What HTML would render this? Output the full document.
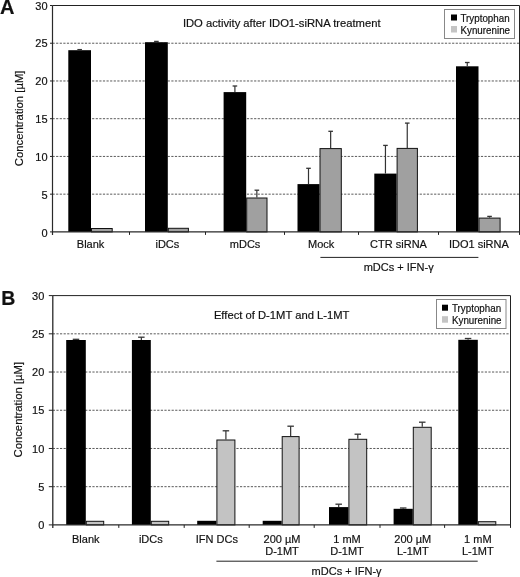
<!DOCTYPE html>
<html><head><meta charset="utf-8"><title>IDO activity</title>
<style>
html,body{margin:0;padding:0;background:#fff;}
body{width:520px;height:577px;overflow:hidden;}
svg{display:block;filter:grayscale(1);}
text{font-family:"Liberation Sans", sans-serif;fill:#111;stroke:#111;stroke-width:0.18px;}
</style></head>
<body>
<svg width="520" height="577" viewBox="0 0 520 577">
<rect width="520" height="577" fill="#fff"/>
<text x="0" y="14.3" font-size="20" font-weight="bold">A</text>
<text x="1.2" y="305.4" font-size="19.5" font-weight="bold">B</text>
<line x1="52.5" y1="194.17" x2="519.5" y2="194.17" stroke="#5a5a5a" stroke-width="1" stroke-dasharray="2.2 1.4"/>
<line x1="52.5" y1="156.43" x2="519.5" y2="156.43" stroke="#5a5a5a" stroke-width="1" stroke-dasharray="2.2 1.4"/>
<line x1="52.5" y1="118.7" x2="519.5" y2="118.7" stroke="#5a5a5a" stroke-width="1" stroke-dasharray="2.2 1.4"/>
<line x1="52.5" y1="80.97" x2="519.5" y2="80.97" stroke="#5a5a5a" stroke-width="1" stroke-dasharray="2.2 1.4"/>
<line x1="52.5" y1="43.23" x2="519.5" y2="43.23" stroke="#5a5a5a" stroke-width="1" stroke-dasharray="2.2 1.4"/>
<rect x="68.3" y="50.2" width="22.7" height="181.7" fill="#000"/>
<rect x="91.5" y="228.5" width="20.7" height="3.4" fill="#a0a0a0" stroke="#111" stroke-width="1"/>
<line x1="79.65" y1="50.2" x2="79.65" y2="49.6" stroke="#333" stroke-width="1.2"/>
<line x1="77.35" y1="49.6" x2="81.95" y2="49.6" stroke="#333" stroke-width="1.3"/>
<rect x="145" y="42.2" width="22.8" height="189.7" fill="#000"/>
<rect x="168.3" y="228.3" width="20.1" height="3.6" fill="#a0a0a0" stroke="#111" stroke-width="1"/>
<line x1="156.4" y1="42.2" x2="156.4" y2="41.4" stroke="#333" stroke-width="1.2"/>
<line x1="154.1" y1="41.4" x2="158.7" y2="41.4" stroke="#333" stroke-width="1.3"/>
<rect x="223.6" y="92.1" width="22.6" height="139.8" fill="#000"/>
<rect x="246.7" y="198" width="20.3" height="33.9" fill="#a0a0a0" stroke="#111" stroke-width="1"/>
<line x1="234.9" y1="92.1" x2="234.9" y2="86" stroke="#333" stroke-width="1.2"/>
<line x1="232.6" y1="86" x2="237.2" y2="86" stroke="#333" stroke-width="1.3"/>
<line x1="256.85" y1="197.5" x2="256.85" y2="190.2" stroke="#333" stroke-width="1.2"/>
<line x1="254.55" y1="190.2" x2="259.15" y2="190.2" stroke="#333" stroke-width="1.3"/>
<rect x="297.5" y="184.1" width="22" height="47.8" fill="#000"/>
<rect x="320" y="148.6" width="21.3" height="83.3" fill="#a0a0a0" stroke="#111" stroke-width="1"/>
<line x1="308.5" y1="184.1" x2="308.5" y2="168.3" stroke="#333" stroke-width="1.2"/>
<line x1="306.2" y1="168.3" x2="310.8" y2="168.3" stroke="#333" stroke-width="1.3"/>
<line x1="330.65" y1="148.1" x2="330.65" y2="131.3" stroke="#333" stroke-width="1.2"/>
<line x1="328.35" y1="131.3" x2="332.95" y2="131.3" stroke="#333" stroke-width="1.3"/>
<rect x="374.3" y="173.6" width="22.3" height="58.3" fill="#000"/>
<rect x="397.1" y="148.4" width="20.3" height="83.5" fill="#a0a0a0" stroke="#111" stroke-width="1"/>
<line x1="385.45" y1="173.6" x2="385.45" y2="145.4" stroke="#333" stroke-width="1.2"/>
<line x1="383.15" y1="145.4" x2="387.75" y2="145.4" stroke="#333" stroke-width="1.3"/>
<line x1="407.25" y1="147.9" x2="407.25" y2="123.1" stroke="#333" stroke-width="1.2"/>
<line x1="404.95" y1="123.1" x2="409.55" y2="123.1" stroke="#333" stroke-width="1.3"/>
<rect x="456" y="66.3" width="22.5" height="165.6" fill="#000"/>
<rect x="479" y="218.1" width="21.1" height="13.8" fill="#a0a0a0" stroke="#111" stroke-width="1"/>
<line x1="467.25" y1="66.3" x2="467.25" y2="62.5" stroke="#333" stroke-width="1.2"/>
<line x1="464.95" y1="62.5" x2="469.55" y2="62.5" stroke="#333" stroke-width="1.3"/>
<line x1="489.55" y1="217.6" x2="489.55" y2="216.4" stroke="#333" stroke-width="1.2"/>
<line x1="487.25" y1="216.4" x2="491.85" y2="216.4" stroke="#333" stroke-width="1.3"/>
<path d="M52.5 5.5H519.5V234.9" fill="none" stroke="#222" stroke-width="1"/>
<path d="M52.5 5.5V234.9M52.5 231.9H519.5" fill="none" stroke="#2a2a2a" stroke-width="1.2"/>
<line x1="50" y1="231.9" x2="52.5" y2="231.9" stroke="#222" stroke-width="1"/>
<text x="47.6" y="237.4" text-anchor="end" font-size="11">0</text>
<line x1="50" y1="194.17" x2="52.5" y2="194.17" stroke="#222" stroke-width="1"/>
<text x="47.6" y="199.37" text-anchor="end" font-size="11">5</text>
<line x1="50" y1="156.43" x2="52.5" y2="156.43" stroke="#222" stroke-width="1"/>
<text x="47.6" y="160.63" text-anchor="end" font-size="11">10</text>
<line x1="50" y1="118.7" x2="52.5" y2="118.7" stroke="#222" stroke-width="1"/>
<text x="47.6" y="122.9" text-anchor="end" font-size="11">15</text>
<line x1="50" y1="80.97" x2="52.5" y2="80.97" stroke="#222" stroke-width="1"/>
<text x="47.6" y="85.17" text-anchor="end" font-size="11">20</text>
<line x1="50" y1="43.23" x2="52.5" y2="43.23" stroke="#222" stroke-width="1"/>
<text x="47.6" y="47.43" text-anchor="end" font-size="11">25</text>
<line x1="50" y1="5.5" x2="52.5" y2="5.5" stroke="#222" stroke-width="1"/>
<text x="47.6" y="9.7" text-anchor="end" font-size="11">30</text>
<line x1="129.5" y1="231.9" x2="129.5" y2="234.9" stroke="#222" stroke-width="1"/>
<line x1="205.5" y1="231.9" x2="205.5" y2="234.9" stroke="#222" stroke-width="1"/>
<line x1="284.5" y1="231.9" x2="284.5" y2="234.9" stroke="#222" stroke-width="1"/>
<line x1="358.5" y1="231.9" x2="358.5" y2="234.9" stroke="#222" stroke-width="1"/>
<line x1="438.5" y1="231.9" x2="438.5" y2="234.9" stroke="#222" stroke-width="1"/>
<line x1="52.8" y1="486.68" x2="510.5" y2="486.68" stroke="#5a5a5a" stroke-width="1" stroke-dasharray="2.2 1.4"/>
<line x1="52.8" y1="448.47" x2="510.5" y2="448.47" stroke="#5a5a5a" stroke-width="1" stroke-dasharray="2.2 1.4"/>
<line x1="52.8" y1="410.25" x2="510.5" y2="410.25" stroke="#5a5a5a" stroke-width="1" stroke-dasharray="2.2 1.4"/>
<line x1="52.8" y1="372.03" x2="510.5" y2="372.03" stroke="#5a5a5a" stroke-width="1" stroke-dasharray="2.2 1.4"/>
<line x1="52.8" y1="333.82" x2="510.5" y2="333.82" stroke="#5a5a5a" stroke-width="1" stroke-dasharray="2.2 1.4"/>
<rect x="66.2" y="340" width="19.6" height="184.9" fill="#000"/>
<rect x="86.3" y="521.3" width="17.4" height="3.6" fill="#c3c3c3" stroke="#111" stroke-width="1"/>
<line x1="76" y1="340" x2="76" y2="339.3" stroke="#333" stroke-width="1.2"/>
<line x1="72.75" y1="339.3" x2="79.25" y2="339.3" stroke="#333" stroke-width="1.3"/>
<rect x="131.9" y="340" width="18.9" height="184.9" fill="#000"/>
<rect x="151.3" y="521.3" width="17.4" height="3.6" fill="#c3c3c3" stroke="#111" stroke-width="1"/>
<line x1="141.35" y1="340" x2="141.35" y2="337.2" stroke="#333" stroke-width="1.2"/>
<line x1="138.1" y1="337.2" x2="144.6" y2="337.2" stroke="#333" stroke-width="1.3"/>
<rect x="197.2" y="520.8" width="19.2" height="4.1" fill="#000"/>
<rect x="216.9" y="440" width="18" height="84.9" fill="#c3c3c3" stroke="#111" stroke-width="1"/>
<line x1="225.9" y1="439.5" x2="225.9" y2="430.8" stroke="#333" stroke-width="1.2"/>
<line x1="222.65" y1="430.8" x2="229.15" y2="430.8" stroke="#333" stroke-width="1.3"/>
<rect x="262.7" y="520.8" width="19" height="4.1" fill="#000"/>
<rect x="282.2" y="436.6" width="16.9" height="88.3" fill="#c3c3c3" stroke="#111" stroke-width="1"/>
<line x1="290.65" y1="436.1" x2="290.65" y2="426.2" stroke="#333" stroke-width="1.2"/>
<line x1="287.4" y1="426.2" x2="293.9" y2="426.2" stroke="#333" stroke-width="1.3"/>
<rect x="329" y="507.1" width="19.4" height="17.8" fill="#000"/>
<rect x="348.9" y="439.3" width="17.8" height="85.6" fill="#c3c3c3" stroke="#111" stroke-width="1"/>
<line x1="338.7" y1="507.1" x2="338.7" y2="504.2" stroke="#333" stroke-width="1.2"/>
<line x1="335.45" y1="504.2" x2="341.95" y2="504.2" stroke="#333" stroke-width="1.3"/>
<line x1="357.8" y1="438.8" x2="357.8" y2="434.2" stroke="#333" stroke-width="1.2"/>
<line x1="354.55" y1="434.2" x2="361.05" y2="434.2" stroke="#333" stroke-width="1.3"/>
<rect x="393.6" y="508.8" width="19.2" height="16.1" fill="#000"/>
<rect x="413.3" y="427.3" width="17.9" height="97.6" fill="#c3c3c3" stroke="#111" stroke-width="1"/>
<line x1="403.2" y1="508.8" x2="403.2" y2="508" stroke="#333" stroke-width="1.2"/>
<line x1="399.95" y1="508" x2="406.45" y2="508" stroke="#333" stroke-width="1.3"/>
<line x1="422.25" y1="426.8" x2="422.25" y2="422.2" stroke="#333" stroke-width="1.2"/>
<line x1="419" y1="422.2" x2="425.5" y2="422.2" stroke="#333" stroke-width="1.3"/>
<rect x="458.3" y="339.8" width="19.5" height="185.1" fill="#000"/>
<rect x="478.3" y="521.7" width="17.5" height="3.2" fill="#c3c3c3" stroke="#111" stroke-width="1"/>
<line x1="468.05" y1="339.8" x2="468.05" y2="338.5" stroke="#333" stroke-width="1.2"/>
<line x1="464.8" y1="338.5" x2="471.3" y2="338.5" stroke="#333" stroke-width="1.3"/>
<path d="M52.8 295.6H510.5V527.9" fill="none" stroke="#222" stroke-width="1"/>
<path d="M52.8 295.6V527.9M52.8 524.9H510.5" fill="none" stroke="#2a2a2a" stroke-width="1.3"/>
<line x1="48.8" y1="524.9" x2="52.8" y2="524.9" stroke="#222" stroke-width="1"/>
<text x="44.3" y="529.1" text-anchor="end" font-size="11">0</text>
<line x1="48.8" y1="486.68" x2="52.8" y2="486.68" stroke="#222" stroke-width="1"/>
<text x="44.3" y="490.88" text-anchor="end" font-size="11">5</text>
<line x1="48.8" y1="448.47" x2="52.8" y2="448.47" stroke="#222" stroke-width="1"/>
<text x="44.3" y="452.67" text-anchor="end" font-size="11">10</text>
<line x1="48.8" y1="410.25" x2="52.8" y2="410.25" stroke="#222" stroke-width="1"/>
<text x="44.3" y="414.45" text-anchor="end" font-size="11">15</text>
<line x1="48.8" y1="372.03" x2="52.8" y2="372.03" stroke="#222" stroke-width="1"/>
<text x="44.3" y="376.23" text-anchor="end" font-size="11">20</text>
<line x1="48.8" y1="333.82" x2="52.8" y2="333.82" stroke="#222" stroke-width="1"/>
<text x="44.3" y="338.02" text-anchor="end" font-size="11">25</text>
<line x1="48.8" y1="295.6" x2="52.8" y2="295.6" stroke="#222" stroke-width="1"/>
<text x="44.3" y="299.8" text-anchor="end" font-size="11">30</text>
<line x1="118.8" y1="524.9" x2="118.8" y2="527.9" stroke="#222" stroke-width="1"/>
<line x1="184.2" y1="524.9" x2="184.2" y2="527.9" stroke="#222" stroke-width="1"/>
<line x1="249.2" y1="524.9" x2="249.2" y2="527.9" stroke="#222" stroke-width="1"/>
<line x1="314.2" y1="524.9" x2="314.2" y2="527.9" stroke="#222" stroke-width="1"/>
<line x1="380" y1="524.9" x2="380" y2="527.9" stroke="#222" stroke-width="1"/>
<line x1="444.6" y1="524.9" x2="444.6" y2="527.9" stroke="#222" stroke-width="1"/>
<rect x="444.5" y="9.5" width="70" height="29" fill="#fff" stroke="#888" stroke-width="1"/>
<rect x="451" y="14.5" width="6" height="6" fill="#000"/>
<rect x="451" y="26" width="6" height="6.5" fill="#c4c4c4"/>
<text transform="translate(460.5 21.6) scale(1 1.12)" font-size="9.8">Tryptophan</text>
<text transform="translate(460.5 33.6) scale(1 1.12)" font-size="9.8">Kynurenine</text>
<rect x="436.5" y="299.5" width="69.5" height="29" fill="#fff" stroke="#888" stroke-width="1"/>
<rect x="442" y="304.7" width="6" height="6" fill="#000"/>
<rect x="442" y="316.2" width="6" height="6.5" fill="#c4c4c4"/>
<text transform="translate(452 311.6) scale(1 1.12)" font-size="9.8">Tryptophan</text>
<text transform="translate(452 323.6) scale(1 1.12)" font-size="9.8">Kynurenine</text>
<text x="182.9" y="27" font-size="11.22">IDO activity after IDO1-siRNA treatment</text>
<text x="213.9" y="318.6" font-size="11.22">Effect of D-1MT and L-1MT</text>
<text transform="translate(23.2 118.4) rotate(-90)" text-anchor="middle" font-size="11.3">Concentration [µM]</text>
<text transform="translate(22.3 409.7) rotate(-90)" text-anchor="middle" font-size="11.3">Concentration [µM]</text>
<text x="90.6" y="247.8" text-anchor="middle" font-size="11">Blank</text>
<text x="167.4" y="247.8" text-anchor="middle" font-size="11">iDCs</text>
<text x="245.1" y="247.8" text-anchor="middle" font-size="11">mDCs</text>
<text x="321.2" y="247.8" text-anchor="middle" font-size="11">Mock</text>
<text x="398.5" y="247.8" text-anchor="middle" font-size="11">CTR siRNA</text>
<text x="478.9" y="247.8" text-anchor="middle" font-size="11">IDO1 siRNA</text>
<line x1="320.4" y1="257.4" x2="478.4" y2="257.4" stroke="#222" stroke-width="1"/>
<text x="398.7" y="270.6" text-anchor="middle" font-size="11">mDCs + IFN-γ</text>
<text x="85.8" y="543" text-anchor="middle" font-size="11">Blank</text>
<text x="150.8" y="543" text-anchor="middle" font-size="11">iDCs</text>
<text x="216.9" y="543" text-anchor="middle" font-size="11">IFN DCs</text>
<text x="282" y="543" text-anchor="middle" font-size="11">200 µM</text>
<text x="282" y="554.9" text-anchor="middle" font-size="11">D-1MT</text>
<text x="347" y="543" text-anchor="middle" font-size="11">1 mM</text>
<text x="347" y="554.9" text-anchor="middle" font-size="11">D-1MT</text>
<text x="412.8" y="543" text-anchor="middle" font-size="11">200 µM</text>
<text x="412.8" y="554.9" text-anchor="middle" font-size="11">L-1MT</text>
<text x="477.8" y="543" text-anchor="middle" font-size="11">1 mM</text>
<text x="477.8" y="554.9" text-anchor="middle" font-size="11">L-1MT</text>
<line x1="216.4" y1="561.2" x2="477.7" y2="561.2" stroke="#222" stroke-width="1"/>
<text x="346.6" y="574.9" text-anchor="middle" font-size="11">mDCs + IFN-γ</text>
</svg>
</body></html>
